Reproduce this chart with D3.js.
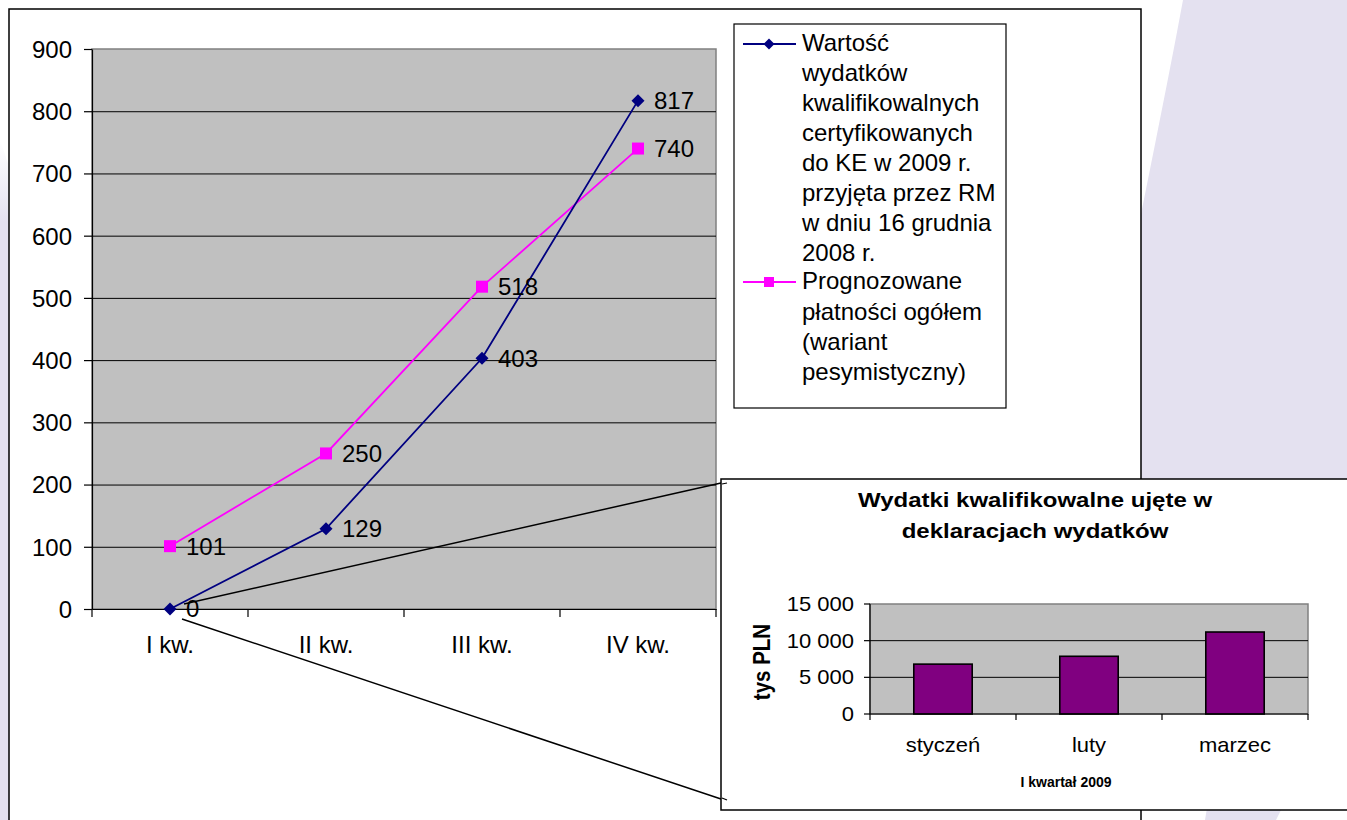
<!DOCTYPE html>
<html>
<head>
<meta charset="utf-8">
<script src="https://cdn.jsdelivr.net/npm/d3@7"></script>
<style>
  html, body { margin: 0; padding: 0; background: #ffffff; }
  svg { display: block; }
  text { font-family: "Liberation Sans", Arial, sans-serif; fill: #000; }
</style>
</head>
<body>
<svg id="chart" width="1347" height="820"></svg>
<script>
// ---------- data ----------
const quarters = ["I kw.", "II kw.", "III kw.", "IV kw."];
const certified = [0, 129, 403, 817];
const forecast = [101, 250, 518, 740];
const yTicks = [0, 100, 200, 300, 400, 500, 600, 700, 800, 900];
const legendCertified = ["Wartość", "wydatków", "kwalifikowalnych", "certyfikowanych",
  "do KE w 2009 r.", "przyjęta przez RM", "w dniu 16 grudnia", "2008 r."];
const legendForecast = ["Prognozowane", "płatności ogółem", "(wariant", "pesymistyczny)"];

const months = ["styczeń", "luty", "marzec"];
const monthly = [6800, 7870, 11180];
const insetTicks = [0, 5000, 10000, 15000];
const insetTitle = ["Wydatki kwalifikowalne ujęte w", "deklaracjach wydatków"];
const insetYLabel = "tys PLN";
const insetXLabel = "I kwartał 2009";

// ---------- setup ----------
const svg = d3.select("#chart");
const W = 1347, H = 820;
const NAVY = "#000080", MAG = "#FF00FF", LAV = "#E4E1F0";

svg.append("rect").attr("width", W).attr("height", H).attr("fill", "#fff");

// background slide decoration
const defs = svg.append("defs");
const lg = defs.append("linearGradient").attr("id", "leftFade").attr("x1", 0).attr("y1", 0).attr("x2", 0).attr("y2", 1);
lg.append("stop").attr("offset", "0%").attr("stop-color", LAV).attr("stop-opacity", 0);
lg.append("stop").attr("offset", "12%").attr("stop-color", LAV).attr("stop-opacity", 1);
lg.append("stop").attr("offset", "100%").attr("stop-color", LAV).attr("stop-opacity", 1);
svg.append("path").attr("d", "M0,140 L12,175 L12,820 L0,820 Z").attr("fill", "url(#leftFade)");
svg.append("path")
  .attr("d", "M1183,0 C1172,60 1158,130 1138,230 L1138,800 L1347,800 L1347,0 Z")
  .attr("fill", LAV);
svg.append("path")
  .attr("d", "M1207,808 L1282,808 L1276,820 L1205,820 Z")
  .attr("fill", LAV);

// main chart box
svg.append("rect").attr("x", 9).attr("y", 9).attr("width", 1132).attr("height", 830)
  .attr("fill", "#fff").attr("stroke", "#000").attr("stroke-width", 1.5);

// ---------- main plot ----------
const plot = { left: 92, right: 716, top: 49, bottom: 609 };
const x = d3.scaleBand().domain(quarters).range([plot.left, plot.right]);
const y = d3.scaleLinear().domain([0, 900]).range([plot.bottom, plot.top]);
const cx = d => x(d) + x.bandwidth() / 2;

svg.append("rect").attr("x", plot.left).attr("y", plot.top)
  .attr("width", plot.right - plot.left).attr("height", plot.bottom - plot.top)
  .attr("fill", "#C0C0C0").attr("stroke", "#808080").attr("stroke-width", 1.5);

// gridlines
svg.append("g").attr("transform", `translate(${plot.left},0)`)
  .call(d3.axisLeft(y).tickValues(yTicks.filter(v => v > 0 && v < 900))
    .tickSize(-(plot.right - plot.left)).tickFormat(""))
  .call(g => g.select(".domain").remove())
  .call(g => g.selectAll("line").attr("stroke", "#000").attr("stroke-width", 1));

// y axis
svg.append("g").attr("transform", `translate(${plot.left},0)`)
  .call(d3.axisLeft(y).tickValues(yTicks).tickSize(8).tickPadding(12).tickSizeOuter(0))
  .call(g => g.select(".domain").attr("stroke", "#000").attr("stroke-width", 1.2))
  .call(g => g.selectAll("line").attr("stroke", "#000").attr("stroke-width", 1.2))
  .call(g => g.selectAll("text").attr("font-size", 24).attr("font-family", "Liberation Sans, Arial, sans-serif").attr("dy", "0.35em"));

// x axis
svg.append("g").attr("transform", `translate(0,${plot.bottom})`)
  .call(d3.axisBottom(x).tickSize(0).tickPadding(27).tickSizeOuter(0))
  .call(g => g.select(".domain").attr("stroke", "#000").attr("stroke-width", 1.2))
  .call(g => g.selectAll("text").attr("font-size", 24).attr("font-family", "Liberation Sans, Arial, sans-serif").attr("dy", "0.71em"));
svg.append("g").selectAll("line")
  .data(d3.range(quarters.length + 1))
  .join("line")
  .attr("x1", i => plot.left + i * x.step()).attr("x2", i => plot.left + i * x.step())
  .attr("y1", plot.bottom).attr("y2", plot.bottom + 8)
  .attr("stroke", "#000").attr("stroke-width", 1.2);

// series
const line = d3.line().x((d, i) => cx(quarters[i])).y(d => y(d));
svg.append("path").datum(forecast).attr("d", line)
  .attr("fill", "none").attr("stroke", MAG).attr("stroke-width", 1.8);
svg.append("path").datum(certified).attr("d", line)
  .attr("fill", "none").attr("stroke", NAVY).attr("stroke-width", 1.8);

const diamond = "M0,-6.5L6.5,0L0,6.5L-6.5,0Z";
svg.append("g").selectAll("rect").data(forecast).join("rect")
  .attr("x", (d, i) => cx(quarters[i]) - 6).attr("y", d => y(d) - 6)
  .attr("width", 12).attr("height", 12).attr("fill", MAG);
svg.append("g").selectAll("path").data(certified).join("path")
  .attr("d", diamond)
  .attr("transform", (d, i) => `translate(${cx(quarters[i])},${y(d)})`)
  .attr("fill", NAVY);

// data labels
const labelG = svg.append("g").attr("font-size", 24);
[certified, forecast].forEach(series => {
  labelG.append("g").selectAll("text").data(series).join("text")
    .attr("x", (d, i) => cx(quarters[i]) + 16)
    .attr("y", d => y(d))
    .attr("dy", "0.35em")
    .text(d => d);
});

// ---------- legend ----------
const leg = svg.append("g");
leg.append("rect").attr("x", 734).attr("y", 24).attr("width", 272).attr("height", 384)
  .attr("fill", "#fff").attr("stroke", "#000").attr("stroke-width", 1.2);
const legEntries = [
  { lines: legendCertified, color: NAVY, shape: "diamond", y0: 44, step: 30 },
  { lines: legendForecast, color: MAG, shape: "square", y0: 282, step: 30.3 }
];
legEntries.forEach(e => {
  leg.append("line").attr("x1", 743).attr("x2", 796).attr("y1", e.y0).attr("y2", e.y0)
    .attr("stroke", e.color).attr("stroke-width", 1.8);
  if (e.shape === "diamond") {
    leg.append("path").attr("d", "M0,-5.5L5.5,0L0,5.5L-5.5,0Z")
      .attr("transform", `translate(769,${e.y0})`).attr("fill", e.color);
  } else {
    leg.append("rect").attr("x", 764).attr("y", e.y0 - 5).attr("width", 10).attr("height", 10)
      .attr("fill", e.color);
  }
  leg.append("g").selectAll("text").data(e.lines).join("text")
    .attr("x", 802).attr("y", (d, i) => e.y0 - 1 + i * e.step)
    .attr("dy", "0.35em").attr("font-size", 24).text(d => d);
});

// ---------- callout lines ----------
const ox = cx(quarters[0]), oy = y(0);
const inset = { left: 721, top: 479, bottom: 810 };
svg.append("line").attr("x1", ox + 14).attr("y1", oy - 5).attr("x2", inset.left).attr("y2", inset.top + 4)
  .attr("stroke", "#000").attr("stroke-width", 1.5);
svg.append("line").attr("x1", ox + 12).attr("y1", oy + 10).attr("x2", inset.left).attr("y2", inset.bottom - 11)
  .attr("stroke", "#000").attr("stroke-width", 1.5);

// ---------- inset chart ----------
const ig = svg.append("g");
ig.append("rect").attr("x", inset.left).attr("y", inset.top).attr("width", 700)
  .attr("height", inset.bottom - inset.top)
  .attr("fill", "#fff").attr("stroke", "#000").attr("stroke-width", 1.5);
ig.append("path").attr("d", `M${inset.left + 6},${inset.top + 4}L${inset.left + 1},${inset.top + 5}`)
  .attr("stroke", "#000").attr("stroke-width", 1.2);
ig.append("path").attr("d", `M${inset.left + 6},${inset.bottom - 10}L${inset.left + 1},${inset.bottom - 12}`)
  .attr("stroke", "#000").attr("stroke-width", 1.2);

const SX = 1.1, SXT = 1.2;
function stext(g, x0, y0, txt, size, bold, sx, anchor) {
  return g.append("text")
    .attr("transform", `translate(${x0},${y0}) scale(${sx},1)`)
    .attr("text-anchor", anchor || "middle")
    .attr("font-size", size)
    .attr("font-weight", bold ? "bold" : "normal")
    .text(txt);
}

// title
insetTitle.forEach((t, i) => stext(ig, 1035, 507 + i * 31, t, 20, true, SXT));

const ip = { left: 870, right: 1308, top: 604, bottom: 714 };
const xi = d3.scaleBand().domain(months).range([ip.left, ip.right]).paddingInner(0.6).paddingOuter(0.3);
const yi = d3.scaleLinear().domain([0, 15000]).range([ip.bottom, ip.top]);
const fmt = d3.formatLocale({ decimal: ",", thousands: " ", grouping: [3], currency: ["", ""] }).format(",d");

ig.append("rect").attr("x", ip.left).attr("y", ip.top)
  .attr("width", ip.right - ip.left).attr("height", ip.bottom - ip.top)
  .attr("fill", "#C0C0C0").attr("stroke", "#808080").attr("stroke-width", 1.5);
ig.append("g").selectAll("line").data(insetTicks.filter(v => v > 0 && v < 15000)).join("line")
  .attr("x1", ip.left).attr("x2", ip.right).attr("y1", d => yi(d)).attr("y2", d => yi(d))
  .attr("stroke", "#000").attr("stroke-width", 1);

// bars
ig.append("g").selectAll("rect").data(monthly).join("rect")
  .attr("x", (d, i) => xi(months[i])).attr("y", d => yi(d))
  .attr("width", xi.bandwidth()).attr("height", d => yi(0) - yi(d))
  .attr("fill", "#800080").attr("stroke", "#000").attr("stroke-width", 1.6);

// inset axes
ig.append("line").attr("x1", ip.left).attr("x2", ip.left).attr("y1", ip.top).attr("y2", ip.bottom)
  .attr("stroke", "#000").attr("stroke-width", 1.2);
ig.append("line").attr("x1", ip.left).attr("x2", ip.right).attr("y1", ip.bottom).attr("y2", ip.bottom)
  .attr("stroke", "#000").attr("stroke-width", 1.2);
ig.append("g").selectAll("line").data(insetTicks).join("line")
  .attr("x1", ip.left - 6).attr("x2", ip.left).attr("y1", d => yi(d)).attr("y2", d => yi(d))
  .attr("stroke", "#000").attr("stroke-width", 1.2);
insetTicks.forEach(v => stext(ig, ip.left - 16, yi(v) + 7, fmt(v), 20, false, SX, "end"));
ig.append("g").selectAll("line").data(d3.range(months.length + 1)).join("line")
  .attr("x1", i => ip.left + i * xi.step()).attr("x2", i => ip.left + i * xi.step())
  .attr("y1", ip.bottom).attr("y2", ip.bottom + 6)
  .attr("stroke", "#000").attr("stroke-width", 1.2);
months.forEach(m => stext(ig, xi(m) + xi.bandwidth() / 2, 752, m, 20, false, SX));

// axis titles
ig.append("text")
  .attr("transform", "translate(770,662) scale(1.15,1) rotate(-90)")
  .attr("text-anchor", "middle").attr("font-size", 20.5).attr("font-weight", "bold")
  .text(insetYLabel);
stext(ig, 1066, 787, insetXLabel, 14, true, 1);
</script>
</body>
</html>
